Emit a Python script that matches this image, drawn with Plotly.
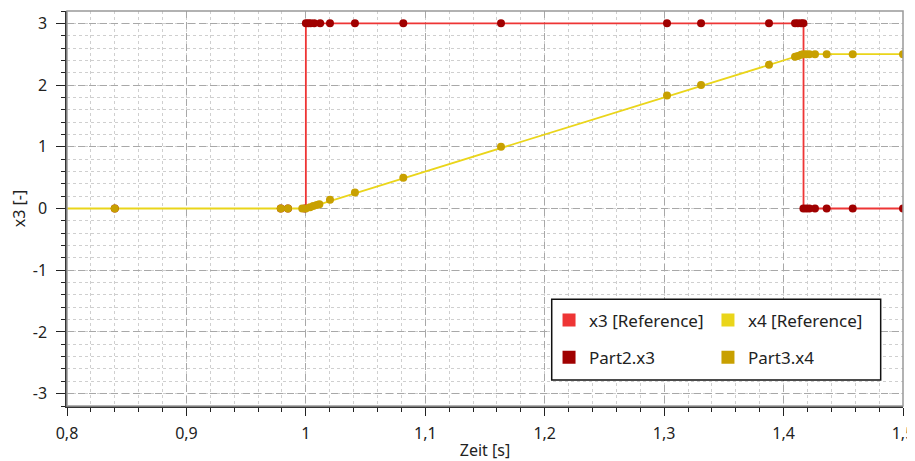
import plotly.graph_objects as go

# Reference curves
ref_t_x3 = [1.0, 1.0, 1.4167, 1.4167, 1.5]
ref_x3 = [0, 3, 3, 0, 0]
ref_t_x4 = [0.8, 1.0, 1.4167, 1.5]
ref_x4 = [0, 0, 2.5, 2.5]

# Part2.x3 samples
p2_t = [0.84, 0.979, 0.985, 0.999,
        1.0, 1.002, 1.004, 1.007, 1.012, 1.0202, 1.0411, 1.0816, 1.1634,
        1.3024, 1.3309, 1.3878, 1.4096, 1.412, 1.4147, 1.4166,
        1.4166, 1.4191, 1.4216, 1.4263, 1.4361, 1.4579, 1.5]
p2_x3 = [0, 0, 0, 0,
         3, 3, 3, 3, 3, 3, 3, 3, 3,
         3, 3, 3, 3, 3, 3, 3,
         0, 0, 0, 0, 0, 0, 0]

# Part3.x4 samples
p3_t = [0.84, 0.979, 0.985, 0.997, 1.0, 1.0035, 1.0062, 1.0091, 1.0113,
        1.0202, 1.0411, 1.0816, 1.1634, 1.3024, 1.3309, 1.3878,
        1.4096, 1.412, 1.4147, 1.4166, 1.4191, 1.4216, 1.4263, 1.4361,
        1.4579, 1.5]
p3_x4 = [0, 0, 0, 0, 0.0, 0.02, 0.04, 0.055, 0.07,
         0.14, 0.26, 0.5, 1.0, 1.83, 2.0, 2.33,
         2.46, 2.47, 2.49, 2.5, 2.5, 2.5, 2.5, 2.5,
         2.5, 2.5]

x_ticks = [0.8, 0.9, 1.0, 1.1, 1.2, 1.3, 1.4, 1.5]
x_ticklabels = ["0,8", "0,9", "1", "1,1", "1,2", "1,3", "1,4", "1,5"]
y_ticks = [-3, -2, -1, 0, 1, 2, 3]
y_ticklabels = ["-3", "-2", "-1", "0", "1", "2", "3"]

C_REF3 = "#ee3535"
C_REF4 = "#ead51a"
C_P2 = "#a00000"
C_P3 = "#c8a000"

FONT = "Noto Sans"

fig = go.Figure()
fig.add_trace(go.Scatter(x=ref_t_x3, y=ref_x3, mode="lines",
                         line=dict(color=C_REF3, width=1.8), showlegend=False, hoverinfo="skip"))
fig.add_trace(go.Scatter(x=ref_t_x4, y=ref_x4, mode="lines",
                         line=dict(color=C_REF4, width=1.8), showlegend=False, hoverinfo="skip"))
fig.add_trace(go.Scatter(x=p2_t, y=p2_x3, mode="markers",
                         marker=dict(color=C_P2, size=8), showlegend=False))
fig.add_trace(go.Scatter(x=p3_t, y=p3_x4, mode="markers",
                         marker=dict(color=C_P3, size=8), showlegend=False))

# legend entries (square swatches)
def swatch(name, color, legend, group):
    fig.add_trace(go.Scatter(x=[None], y=[None], mode="markers", name=name,
                             marker=dict(symbol="square", size=13, color=color),
                             legend=legend, legendgroup=group, showlegend=True))

swatch("x3 [Reference]", C_REF3, "legend", "a")
swatch("Part2.x3", C_P2, "legend", "b")
swatch("x4 [Reference]", C_REF4, "legend2", "c")
swatch("Part3.x4", C_P3, "legend2", "d")

leg_common = dict(bgcolor="rgba(0,0,0,0)", borderwidth=0,
                  font=dict(family=FONT, size=17, color="#222"),
                  tracegroupgap=12, orientation="v",
                  xanchor="left", yanchor="top", itemclick=False)

grid_major = dict(showgrid=True, gridcolor="#a8a8a8", griddash="7px,4px", gridwidth=1)

fig.update_layout(
    width=907, height=453,
    margin=dict(l=59, r=12, t=3, b=55),
    paper_bgcolor="white", plot_bgcolor="white",
    font=dict(family=FONT, size=16, color="#222"),
    legend=dict(x=0.5766, y=0.262, **leg_common),
    legend2=dict(x=0.7667, y=0.262, **leg_common),
    xaxis=dict(range=[0.8, 1.5], tickvals=x_ticks, ticktext=x_ticklabels,
               showline=True, linecolor="#333", linewidth=1.5,
               ticks="outside", ticklen=8, tickcolor="#222",
               zeroline=False, automargin=False, ticklabelstandoff=4,
               minor=dict(dtick=0.02, tick0=0.8, ticks="outside", ticklen=4, tickcolor="#222",
                          showgrid=True, gridcolor="#cfcfcf", griddash="dot", gridwidth=1),
               title=dict(text="Zeit [s]", standoff=5, font=dict(size=16)),
               tickfont=dict(size=16), **grid_major),
    yaxis=dict(range=[-3.2, 3.2], tickvals=y_ticks, ticktext=y_ticklabels,
               showline=True, linecolor="#333", linewidth=1.5,
               ticks="outside", ticklen=9, tickcolor="#222",
               zeroline=False, automargin=False, ticklabelstandoff=6,
               minor=dict(dtick=0.2, tick0=0, ticks="outside", ticklen=4, tickcolor="#222",
                          showgrid=True, gridcolor="#cfcfcf", griddash="dot", gridwidth=1),
               title=dict(text="x3 [-]", standoff=8, font=dict(size=16)),
               tickfont=dict(size=16), **grid_major),
    shapes=[
        dict(type="rect", xref="paper", yref="paper", x0=0, x1=1, y0=0, y1=1,
             line=dict(color="#999", width=1.5), layer="above"),
        dict(type="rect", xref="paper", yref="paper", x0=0.5798, x1=0.9733,
             y0=0.0658, y1=0.2701, fillcolor="white",
             line=dict(color="#111", width=1.5), layer="above"),
    ],
)

fig.write_html("out.html")
